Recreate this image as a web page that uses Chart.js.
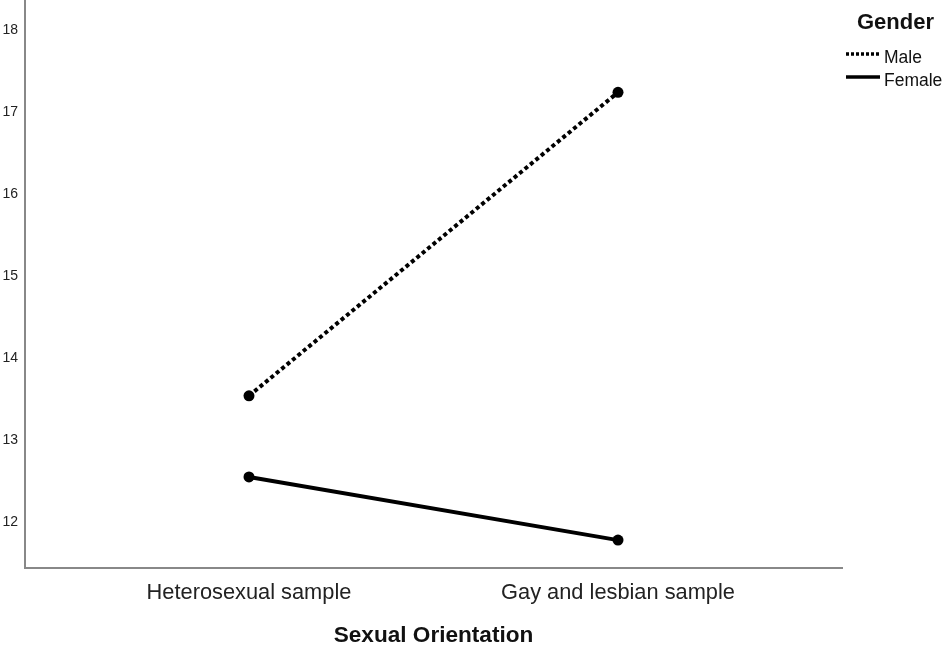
<!DOCTYPE html>
<html>
<head>
<meta charset="utf-8">
<script src="https://cdn.jsdelivr.net/npm/chart.js@4"></script>
<style>
  html, body { margin: 0; padding: 0; background: #fff; }
  #wrap { width: 950px; height: 652px; position: relative; }
</style>
</head>
<body>
<div id="wrap"><canvas id="plot" width="950" height="652"></canvas></div>
<script>
const categories = ["Heterosexual sample", "Gay and lesbian sample"];
const maleValues = [13.54, 17.24];
const femaleValues = [12.55, 11.78];
const yTicks = [12, 13, 14, 15, 16, 17, 18];
const seriesNames = ["Male", "Female"];

const FONT = "'Liberation Sans', Arial, sans-serif";

// legend drawn in the right margin
const genderLegend = {
    id: "genderLegend",
    afterDraw(chart) {
        const ctx = chart.ctx;
        ctx.save();
        ctx.fillStyle = "#111";
        ctx.font = "bold 22px " + FONT;
        ctx.textBaseline = "middle";
        ctx.textAlign = "left";
        ctx.fillText("Gender", 857, 23);
        ctx.font = "17.5px " + FONT;
        ctx.strokeStyle = "#000";
        // Male: dotted
        ctx.lineWidth = 3.5;
        ctx.setLineDash([3, 2]);
        ctx.beginPath(); ctx.moveTo(846, 54); ctx.lineTo(880, 54); ctx.stroke();
        ctx.fillText(seriesNames[0], 884, 58);
        // Female: solid
        ctx.setLineDash([]);
        ctx.beginPath(); ctx.moveTo(846, 77); ctx.lineTo(880, 77); ctx.stroke();
        ctx.fillText(seriesNames[1], 884, 81);
        ctx.restore();
    }
};

new Chart(document.getElementById("plot"), {
    type: "line",
    data: {
        datasets: [{
            label: seriesNames[0],
            data: maleValues.map((v, i) => ({ x: i, y: v })),
            borderColor: "#000",
            backgroundColor: "#000",
            borderWidth: 4,
            borderDash: [4, 3],
            pointRadius: 5.5,
            pointBorderWidth: 0,
            tension: 0,
        }, {
            label: seriesNames[1],
            data: femaleValues.map((v, i) => ({ x: i, y: v })),
            borderColor: "#000",
            backgroundColor: "#000",
            borderWidth: 4,
            pointRadius: 5.5,
            pointBorderWidth: 0,
            tension: 0,
        }]
    },
    options: {
        responsive: false,
        animation: false,
        devicePixelRatio: 1,
        layout: { autoPadding: false, padding: { top: 0, right: 108, left: 0, bottom: 0 } },
        scales: {
            x: {
                type: "linear",
                min: -0.607,
                max: 1.607,
                grid: { display: false, drawTicks: false },
                border: { color: "#888", width: 2 },
                afterBuildTicks: (s) => { s.ticks = categories.map((c, i) => ({ value: i })); },
                afterFit: (s) => { s.height = 84; s.paddingLeft = 0; s.paddingRight = 0; },
                ticks: {
                    callback: (v) => categories[v],
                    font: { family: FONT, size: 21.8 },
                    color: "#222",
                    padding: 12,
                    maxRotation: 0,
                },
                title: {
                    display: true,
                    text: "Sexual Orientation",
                    font: { family: FONT, size: 22.6, weight: "bold" },
                    color: "#111",
                    padding: { top: 2, bottom: 3 },
                },
            },
            y: {
                min: 11.44,
                max: 18.366,
                grid: { display: false, drawTicks: false },
                border: { color: "#888", width: 2 },
                afterBuildTicks: (s) => { s.ticks = yTicks.map(v => ({ value: v })); },
                afterFit: (s) => { s.width = 25; s.paddingTop = 0; s.paddingBottom = 0; },
                ticks: {
                    font: { family: FONT, size: 14 },
                    color: "#222",
                    padding: 7,
                },
            },
        },
        plugins: {
            legend: { display: false },
            tooltip: { enabled: false },
        }
    },
    plugins: [genderLegend]
});
</script>
</body>
</html>
